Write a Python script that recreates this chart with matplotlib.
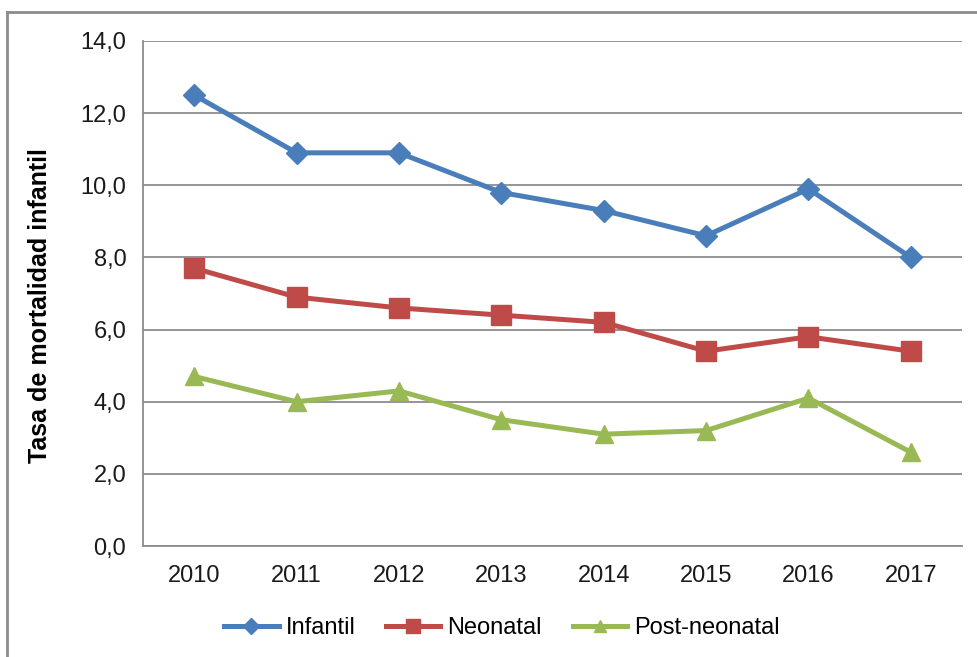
import matplotlib.pyplot as plt
from matplotlib.lines import Line2D

plt.rcParams['font.family'] = ['Liberation Sans', 'DejaVu Sans']

# Data
years = ['2010', '2011', '2012', '2013', '2014', '2015', '2016', '2017']
infantil = [12.5, 10.9, 10.9, 9.8, 9.3, 8.6, 9.9, 8.0]
neonatal = [7.7, 6.9, 6.6, 6.4, 6.2, 5.4, 5.8, 5.4]
post_neonatal = [4.7, 4.0, 4.3, 3.5, 3.1, 3.2, 4.1, 2.6]
y_ticks = [0, 2, 4, 6, 8, 10, 12, 14]

fig = plt.figure(figsize=(9.77, 6.57), dpi=100)
ax = fig.add_axes([143 / 977, 1 - 546 / 657, 819 / 977, 505 / 657])

x = range(len(years))
ax.plot(x, infantil, color='#4A7EBB', lw=3.6, marker='D', ms=11, label='Infantil')
ax.plot(x, neonatal, color='#BE4B48', lw=3.6, marker='s', ms=14, label='Neonatal')
ax.plot(x, post_neonatal, color='#98B954', lw=3.6, marker='^', ms=13, label='Post-neonatal')

ax.set_xlim(-0.5, len(years) - 0.5)
ax.set_ylim(0, 14)
ax.set_xticks(list(x))
ax.set_xticklabels(years)
ax.set_yticks(y_ticks)
ax.set_yticklabels([f"{v:.1f}".replace('.', ',') for v in y_ticks])
ax.tick_params(length=0, labelsize=17, colors='#1a1a1a', pad=12)
ax.tick_params(axis='x', pad=14)

ax.grid(axis='y', color='#8C8C8C', lw=1.3)
ax.set_axisbelow(True)
for s in ['top', 'right']:
    ax.spines[s].set_visible(False)
for s in ['left', 'bottom']:
    ax.spines[s].set_color('#8C8C8C')
    ax.spines[s].set_linewidth(1.3)

ax.set_ylabel('Tasa de mortalidad infantil', fontsize=18, fontweight='bold',
              va='center')
ax.yaxis.set_label_coords(-0.126, 0.477)

fig.legend(loc='center', bbox_to_anchor=(502 / 977, 1 - 628 / 657), ncol=3,
           frameon=False, fontsize=17, handlelength=2.3, columnspacing=1.3,
           handletextpad=0.3, markerscale=0.7)

# outer chart border (top and left visible)
fig.add_artist(Line2D([7 / 977, 7 / 977], [0, 1 - 12 / 657], transform=fig.transFigure,
                      color='#8C8C8C', lw=2))
fig.add_artist(Line2D([7 / 977, 1], [1 - 12 / 657, 1 - 12 / 657], transform=fig.transFigure,
                      color='#8C8C8C', lw=2))

fig.savefig('out.png', dpi=100)
